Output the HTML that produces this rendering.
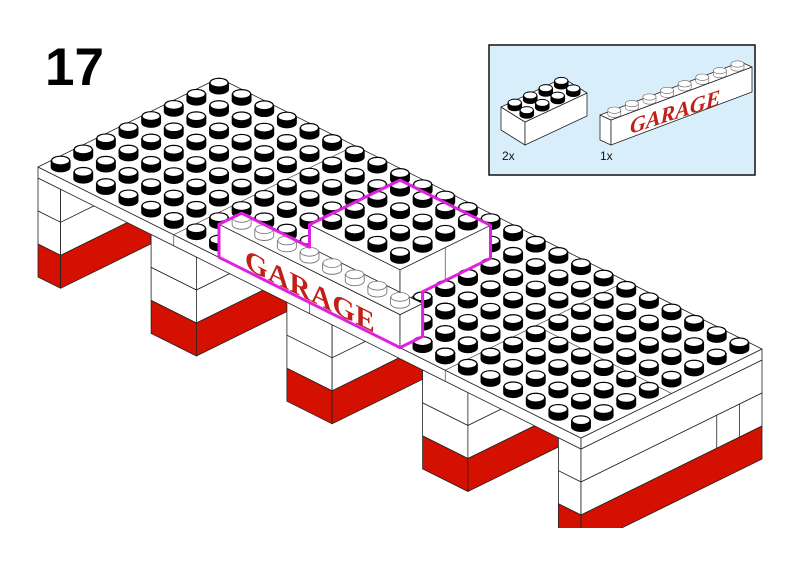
<!DOCTYPE html>
<html><head><meta charset="utf-8"><style>
html,body{margin:0;padding:0;background:#fff;width:800px;height:566px;overflow:hidden}
svg{display:block}
</style></head><body>
<svg id="s" width="800" height="566" viewBox="0 0 800 566" xmlns="http://www.w3.org/2000/svg">
<rect width="800" height="566" fill="#fff"/>
<g id="g"></g>
<text id="garageText" x="26" y="31" font-family="Liberation Serif, serif" font-weight="bold" font-size="29" fill="#c0201a" letter-spacing="0.5">GARAGE</text>
<text x="45" y="85" font-family="Liberation Sans, sans-serif" font-weight="bold" font-size="53" fill="#000">17</text>
<g id="inset">
<rect x="489" y="45" width="266" height="130" fill="#d9eefb" stroke="#111" stroke-width="1.5"/>
<g id="ig"></g>
<text x="502" y="160" font-family="Liberation Sans, sans-serif" font-size="12" fill="#111">2x</text>
<text x="600" y="160" font-family="Liberation Sans, sans-serif" font-size="12" fill="#111">1x</text>
<text transform="matrix(1,-0.33,0,1,630,134)" x="0" y="0" font-family="Liberation Serif, serif" font-style="italic" font-weight="bold" font-size="22" fill="#c0201a">GARAGE</text>
</g>
</svg>
<script>
(function(){
var NS="http://www.w3.org/2000/svg";
var g=document.getElementById('g'), ig=document.getElementById('ig');
function P(u,v,h){return [38+22.625*(u+v),167+11.29*u-11.125*v+(h||0)];}
function el(parent,tag,attrs){var e=document.createElementNS(NS,tag);for(var k in attrs)e.setAttribute(k,attrs[k]);parent.appendChild(e);return e;}
function poly(pts,fill,stroke,sw,parent){el(parent||g,'polygon',{points:pts.map(function(p){return p[0].toFixed(1)+','+p[1].toFixed(1);}).join(' '),fill:fill,stroke:stroke||'#222','stroke-width':sw||0.8,'stroke-linejoin':'round'});}
function line(a,b,stroke,sw,parent){el(parent||g,'line',{x1:a[0],y1:a[1],x2:b[0],y2:b[1],stroke:stroke||'#222','stroke-width':sw||0.8});}
var RED='#d41000';
var pillars=[[0,1,4],[5,7,4],[11,13,4],[17,19,4],[23,24,8]];
var layers=[11,44,77,110];
pillars.forEach(function(p){
  var u0=p[0],u1=p[1],vd=p[2];
  for(var i=0;i<3;i++){
    var h0=layers[i],h1=layers[i+1],f=i==2?RED:'#fff';
    poly([P(u0,0,h0),P(u1,0,h0),P(u1,0,h1),P(u0,0,h1)],f);
    poly([P(u1,0,h0),P(u1,vd,h0),P(u1,vd,h1),P(u1,0,h1)],f);
  }
  if(vd==8){line(P(24,6,44),P(24,6,77));line(P(24,7,44),P(24,7,77));}
});
poly([P(0,0,0),P(24,0,0),P(24,0,11),P(0,0,11)],'#fff');
poly([P(24,0,0),P(24,8,0),P(24,8,11),P(24,0,11)],'#fff');
poly([P(0,0,0),P(0,8,0),P(24,8,0),P(24,0,0)],'#fff');
[6,12,18].forEach(function(u){line(P(u,0,0),P(u,8,0),'#444',0.7);line(P(u,0,0),P(u,0,11),'#444',0.7);});
line(P(18,4,0),P(24,4,0),'#444',0.7);
function stud(u,v,z,light){
  var c=P(u+0.5,v+0.5,-z),rx=9.5,ry=4.8,hh=6.5;
  var x=c[0],y=c[1];
  var d='M'+(x-rx)+','+(y-hh)+' L'+(x-rx)+','+y+' A'+rx+','+ry+' 0 0 0 '+(x+rx)+','+y+' L'+(x+rx)+','+(y-hh)+' Z';
  el(g,'path',{d:d,fill:light?'#fff':'#000',stroke:light?'#777':'#000','stroke-width':0.9});
  el(g,'ellipse',{cx:x,cy:y-hh,rx:rx-0.5,ry:ry-0.4,fill:'#fff',stroke:light?'#777':'#000','stroke-width':light?0.8:1.2});
}
function covered(u,v){return (v==0&&u>=8&&u<16)||(u>=10&&u<14&&v>=2&&v<6);}
var list=[];
for(var u=0;u<24;u++)for(var v=0;v<8;v++)if(!covered(u,v))list.push([u,v]);
function order(a,b){return (P(a[0],a[1])[1]-P(b[0],b[1])[1]);}
list.sort(order);
list.forEach(function(s){stud(s[0],s[1],0);});
var H=33;
poly([P(10,2,0),P(14,2,0),P(14,2,-H),P(10,2,-H)],'#fff');
poly([P(14,2,0),P(14,6,0),P(14,6,-H),P(14,2,-H)],'#fff');
poly([P(10,2,-H),P(10,6,-H),P(14,6,-H),P(14,2,-H)],'#fff');
line(P(14,4,0),P(14,4,-H),'#444',0.7);
var bl=[];for(var u=10;u<14;u++)for(var v=2;v<6;v++)bl.push([u,v]);
bl.sort(order);bl.forEach(function(s){stud(s[0],s[1],H);});
var p2=list.filter(function(s){return (s[1]==1&&s[0]>=9&&s[0]<=14)||(s[0]>=14&&s[0]<=15&&s[1]>=2&&s[1]<=5);});
p2.forEach(function(s){stud(s[0],s[1],0);});
poly([P(8,0,0),P(16,0,0),P(16,0,-H),P(8,0,-H)],'#fff');
poly([P(16,0,0),P(16,1,0),P(16,1,-H),P(16,0,-H)],'#fff');
poly([P(8,0,-H),P(8,1,-H),P(16,1,-H),P(16,0,-H)],'#fff');
for(var u=8;u<16;u++)stud(u,0,H,true);
var p3=list.filter(function(s){return s[0]>=16&&s[0]<=17&&s[1]<=1;});
p3.forEach(function(s){stud(s[0],s[1],0);});
var o=P(8,0,-H);
document.getElementById('garageText').setAttribute('transform','matrix(1,0.499,0,1,'+o[0]+','+o[1]+')');
g.parentNode.insertBefore(document.getElementById('garageText'),g.nextSibling);
var ol=[P(8,0,0),P(8,0,-H),P(8,1,-H),P(11,1,-H),P(10,2,-H),P(10,6,-H),P(14,6,-H),P(14,6,0),P(14,3,0),P(16,1,-H),P(16,1,0),P(16,0,0)];
el(g,'polygon',{points:ol.map(function(p){return p[0].toFixed(1)+','+p[1].toFixed(1);}).join(' '),fill:'none',stroke:'#e020e0','stroke-width':3,'stroke-linejoin':'round'});
el(g,'rect',{x:0,y:528,width:800,height:40,fill:'#fff'});
function iStud(x,y,rx,ry,hh){
  return 'M'+(x-rx)+','+(y-hh)+' L'+(x-rx)+','+y+' A'+rx+','+ry+' 0 0 0 '+(x+rx)+','+y+' L'+(x+rx)+','+(y-hh)+' Z';
}
var A=[501,107],L=[15.5,-7.25],S=[12,7.5],bh=23;
function Q(i,j,h){return [A[0]+i*L[0]+j*S[0],A[1]+i*L[1]+j*S[1]+h];}
poly([Q(0,0,0),Q(0,2,0),Q(0,2,bh),Q(0,0,bh)],'#fff','#222',0.8,ig);
poly([Q(0,2,0),Q(4,2,0),Q(4,2,bh),Q(0,2,bh)],'#fff','#222',0.8,ig);
poly([Q(0,0,0),Q(4,0,0),Q(4,2,0),Q(0,2,0)],'#fff','#222',0.8,ig);
var ss=[];for(var i=0;i<4;i++)for(var j=0;j<2;j++)ss.push(Q(i+0.5,j+0.5,0));
ss.sort(function(a,b){return a[1]-b[1];});
ss.forEach(function(c){el(ig,'path',{d:iStud(c[0],c[1],7,3.8,4.5),fill:'#000',stroke:'#000','stroke-width':0.6});el(ig,'ellipse',{cx:c[0],cy:c[1]-4.5,rx:6.6,ry:3.5,fill:'#fff',stroke:'#000','stroke-width':0.9});});
poly([[600,115],[611,120],[611,145],[600,140]],'#fff','#222',0.8,ig);
poly([[611,120],[752,67],[752,92],[611,145]],'#fff','#222',0.8,ig);
poly([[600,115],[741,62],[752,67],[611,120]],'#fff','#222',0.8,ig);
for(var i=0;i<8;i++){var cx=605.5+(i+0.5)*17.6,cy=117.5-(i+0.5)*6.6;
  el(ig,'path',{d:iStud(cx,cy,6.5,3.2,4),fill:'#fff',stroke:'#666','stroke-width':0.6});
  el(ig,'ellipse',{cx:cx,cy:cy-4,rx:6.5,ry:3.2,fill:'#fff',stroke:'#666','stroke-width':0.6});}
var insetTexts=document.querySelectorAll('#inset text');
insetTexts.forEach(function(t){t.parentNode.appendChild(t);});
})();
</script>
</body></html>
